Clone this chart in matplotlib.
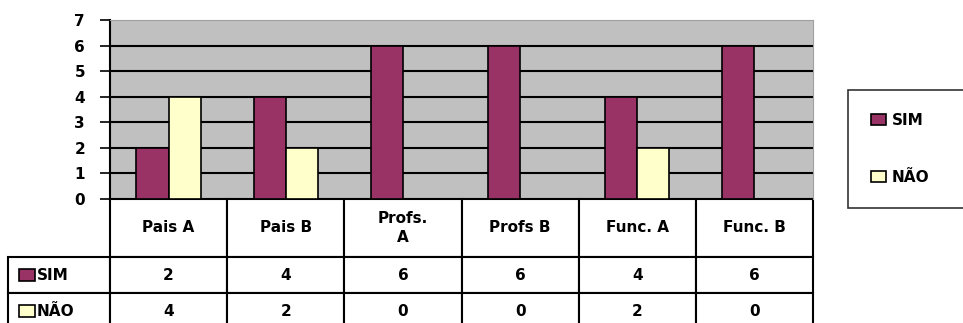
import matplotlib
matplotlib.use("Agg")
import matplotlib.pyplot as plt
from matplotlib.patches import Rectangle
import numpy as np

categories = ["Pais A", "Pais B", "Profs.\nA", "Profs B", "Func. A", "Func. B"]
series_names = ["SIM", "NÃO"]
sim = [2, 4, 6, 6, 4, 6]
nao = [4, 2, 0, 0, 2, 0]
colors = ["#993366", "#FFFFCC"]

W, H = 963, 323
fig = plt.figure(figsize=(W / 100, H / 100), dpi=100)
# plot area in pixels: x 110..813, y 20..199
AX_W, AX_H = 703, 179
ax = fig.add_axes([110 / W, (H - 199) / H, AX_W / W, AX_H / H])
ax.set_facecolor("#C0C0C0")

x = np.arange(len(categories))
bw = 0.275
bars = []
for i, (vals, c) in enumerate(zip([sim, nao], colors)):
    b = ax.bar(x + (i - 0.5) * bw, vals, bw, color=c, edgecolor="black",
               linewidth=1.2, label=series_names[i], zorder=3)
    bars.append(b)

ax.set_xlim(-0.5, len(categories) - 0.5)
ax.set_ylim(0, 7)
ax.set_yticks(range(0, 8))
ax.set_xticks([])
for v in range(1, 7):
    ax.axhline(v, color="black", linewidth=1.5, zorder=1)
ax.tick_params(axis="y", length=7, width=1.2, pad=11, labelsize=11)
for lab in ax.get_yticklabels():
    lab.set_fontweight("bold")
ax.spines["left"].set_linewidth(1.5)
ax.spines["bottom"].set_visible(False)
ax.spines["top"].set_color("#A0A0A0")
ax.spines["right"].set_color("#A0A0A0")

# data table under the plot (drawn in axes coordinates, pixel sizes / axes size)
row_px = [58, 36, 36]
lab_left = (8 - 110) / AX_W
n = len(categories)
tr = ax.transAxes
font = dict(fontsize=11, fontweight="bold", transform=tr, clip_on=False)


def cell(x0, y0, w, h):
    ax.add_patch(Rectangle((x0, y0), w, h, transform=tr, facecolor="white",
                           edgecolor="black", linewidth=1.5, clip_on=False))


y_top = 0
for r in range(3):
    h = row_px[r] / AX_H
    y0 = y_top - h
    if r == 0:
        for j, cat in enumerate(categories):
            cell(j / n, y0, 1 / n, h)
            ax.text((j + 0.5) / n, y0 + h / 2, cat, ha="center", va="center",
                    linespacing=1.3, **font)
    else:
        vals = [sim, nao][r - 1]
        cell(lab_left, y0, -lab_left, h)
        ax.add_patch(Rectangle(((19 - 110) / AX_W, y0 + h / 2 - 6 / AX_H),
                               16 / AX_W, 12 / AX_H, transform=tr,
                               facecolor=colors[r - 1], edgecolor="black",
                               linewidth=1.2, clip_on=False))
        ax.text((37 - 110) / AX_W, y0 + h / 2, series_names[r - 1],
                ha="left", va="center", **font)
        for j, v in enumerate(vals):
            cell(j / n, y0, 1 / n, h)
            ax.text((j + 0.5) / n, y0 + h / 2, str(v), ha="center",
                    va="center", **font)
    y_top = y0

leg = fig.legend(handles=bars, labels=series_names, loc="upper left",
                 bbox_to_anchor=(848 / W, 1 - 93 / H, 140 / W, 0.01),
                 mode="expand", fancybox=False, edgecolor="black",
                 frameon=True, handlelength=1.0, handleheight=0.8,
                 handletextpad=0.35, labelspacing=2.75, borderpad=1.5,
                 borderaxespad=0, prop={"weight": "bold", "size": 11})
leg.get_frame().set_linewidth(1.2)

fig.savefig("out.png", dpi=100)
